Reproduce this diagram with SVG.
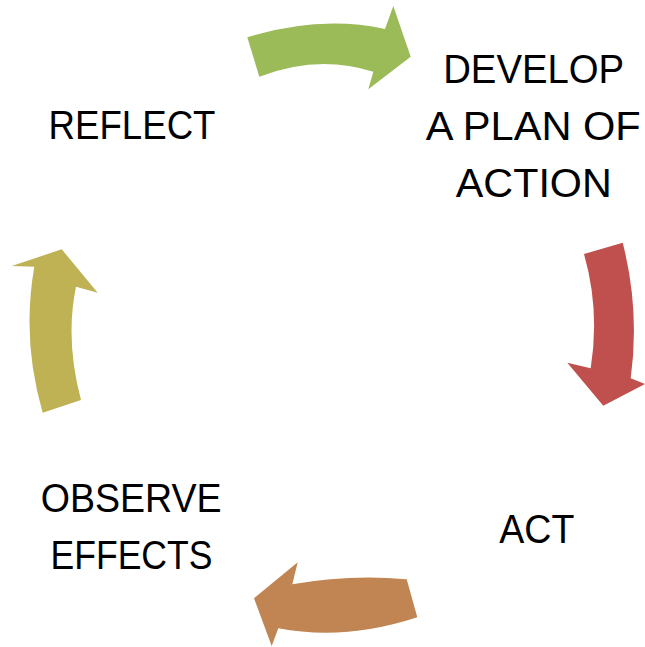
<svg xmlns="http://www.w3.org/2000/svg" width="645" height="647" viewBox="0 0 645 647">
<style>
.lbl{font-family:"Liberation Sans","Open Sans",Arial,sans-serif;font-size:41px;fill:#000;text-anchor:middle}
</style>
<rect width="645" height="647" fill="#fff"/>
<g id="connectors">
<path id="arrow-green" fill="#9BBB59" d="M247.3,37.3 Q320,15 385,29 L393.3,6 L410.7,56.7 L368.3,89.3 L373.3,71.7 Q318,54 259.3,76.7 Z"/>
<path id="arrow-red" fill="#C0504D" d="M584,254 L622.7,242.7 Q640,310 630.7,378.3 L645,384 L603.3,405.7 L567.3,362.7 L590.7,368.3 Q600,310 584,254 Z"/>
<path id="arrow-orange" fill="#C08552" d="M406.7,579.3 Q350,574 292.3,584.3 L297.7,562.3 L254,598.3 L271.7,646 L278.3,628.3 Q345,641 417.3,617.3 Z"/>
<path id="arrow-olive" fill="#BEB255" d="M42.7,412.7 Q21.5,340 34.3,266.7 L11.7,266 L61.7,249.3 L97.7,292.7 L76,286.7 Q65,340 81,400 Z"/>
</g>
<g id="node-reflect"><text class="lbl" x="132" y="139.3" textLength="167" lengthAdjust="spacingAndGlyphs">REFLECT</text></g>
<g id="node-develop">
<text class="lbl" x="533.7" y="83.3" textLength="181" lengthAdjust="spacingAndGlyphs">DEVELOP</text>
<text class="lbl" x="533.3" y="140" textLength="215" lengthAdjust="spacingAndGlyphs">A PLAN OF</text>
<text class="lbl" x="533.8" y="196.7" textLength="156" lengthAdjust="spacingAndGlyphs">ACTION</text>
</g>
<g id="node-act"><text class="lbl" x="536.8" y="542.7" textLength="75" lengthAdjust="spacingAndGlyphs">ACT</text></g>
<g id="node-observe">
<text class="lbl" x="131.2" y="511.7" textLength="181" lengthAdjust="spacingAndGlyphs">OBSERVE</text>
<text class="lbl" x="131.5" y="569" textLength="162" lengthAdjust="spacingAndGlyphs">EFFECTS</text>
</g>
</svg>
